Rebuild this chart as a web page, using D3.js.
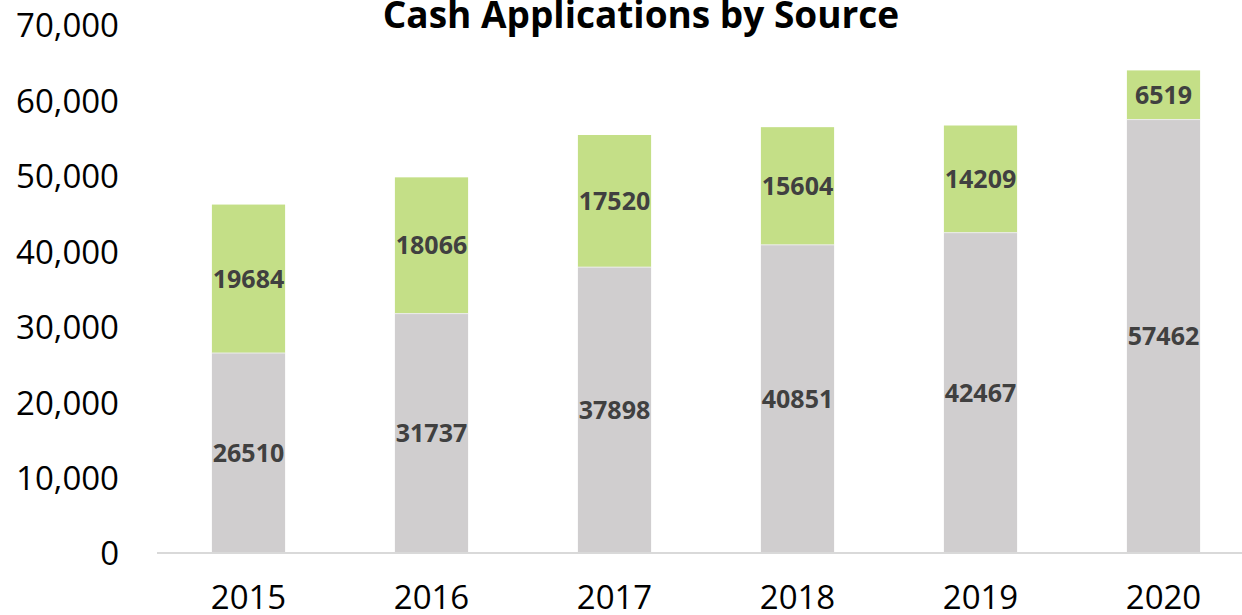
<!DOCTYPE html>
<html>
<head>
<meta charset="utf-8">
<script src="https://cdn.jsdelivr.net/npm/d3@7"></script>
<style>
  html, body { margin: 0; padding: 0; background: #fff; overflow: hidden; }
  svg { display: block; }
  text { font-family: "Open Sans", "Liberation Sans", sans-serif; }
</style>
</head>
<body>
<svg id="chart" width="1242" height="615"></svg>
<script>
// Cash applications per year, split by source
const years = ["2015", "2016", "2017", "2018", "2019", "2020"];
const baseValues = [26510, 31737, 37898, 40851, 42467, 57462];
const topValues = [19684, 18066, 17520, 15604, 14209, 6519];
const yTicks = [0, 10000, 20000, 30000, 40000, 50000, 60000, 70000];
const title = "Cash Applications by Source";

const W = 1242, H = 615;
const svg = d3.select("#chart");

const x = d3.scaleBand()
  .domain(years)
  .range([157, 1255])
  .paddingInner(0.6)
  .paddingOuter(0.3);

const y = d3.scaleLinear()
  .domain([0, 70000])
  .range([553, 25]);

// title
svg.append("text")
  .attr("x", 641)
  .attr("y", 28)
  .attr("text-anchor", "middle")
  .attr("font-weight", "bold")
  .attr("font-size", 37)
  .attr("fill", "#000")
  .text(title);

// y axis labels (no line)
const yAxis = d3.axisLeft(y)
  .tickValues(yTicks)
  .tickFormat(d3.format(","))
  .tickSize(0)
  .tickPadding(0);
const yg = svg.append("g").attr("transform", "translate(119,0)").call(yAxis);
yg.select(".domain").remove();
yg.selectAll("text")
  .attr("font-size", 33)
  .attr("fill", "#000")
  .attr("dy", "0.36em")
  .style("font-family", "'Open Sans', sans-serif");

// stacked data
const rows = years.map((yr, i) => ({ year: yr, base: baseValues[i], top: topValues[i] }));
const stack = d3.stack().keys(["base", "top"]);
const series = stack(rows);
const colors = { base: "#d0cecf", top: "#c4df87" };

const groups = svg.append("g").selectAll("g")
  .data(series)
  .join("g")
  .attr("fill", d => colors[d.key]);

groups.selectAll("rect")
  .data(d => d)
  .join("rect")
  .attr("x", d => x(d.data.year))
  .attr("width", x.bandwidth())
  .attr("y", d => y(d[1]))
  .attr("height", d => y(d[0]) - y(d[1]));

// thin light seam between segments
svg.append("g").selectAll("line")
  .data(rows)
  .join("line")
  .attr("x1", d => x(d.year))
  .attr("x2", d => x(d.year) + x.bandwidth())
  .attr("y1", d => y(d.base))
  .attr("y2", d => y(d.base))
  .attr("stroke", "#ececec")
  .attr("stroke-width", 1);

// value labels centred in each segment
groups.selectAll("text")
  .data(d => d.map(p => ({ p, key: d.key })))
  .join("text")
  .attr("x", d => x(d.p.data.year) + x.bandwidth() / 2)
  .attr("y", d => (y(d.p[0]) + y(d.p[1])) / 2)
  .attr("dy", "0.36em")
  .attr("text-anchor", "middle")
  .attr("font-weight", "bold")
  .attr("font-size", 25)
  .attr("fill", "#404040")
  .text(d => d.p.data[d.key]);

// x axis baseline and labels
svg.append("line")
  .attr("x1", 157).attr("x2", W)
  .attr("y1", 553).attr("y2", 553)
  .attr("stroke", "#d9d9d9")
  .attr("stroke-width", 2);

const xAxis = d3.axisBottom(x).tickSize(0).tickPadding(0);
const xg = svg.append("g").attr("transform", "translate(0,609)").call(xAxis);
xg.select(".domain").remove();
xg.selectAll("text")
  .attr("font-size", 33)
  .attr("fill", "#000")
  .attr("y", 0)
  .attr("dy", 0)
  .style("font-family", "'Open Sans', sans-serif");
</script>
</body>
</html>
